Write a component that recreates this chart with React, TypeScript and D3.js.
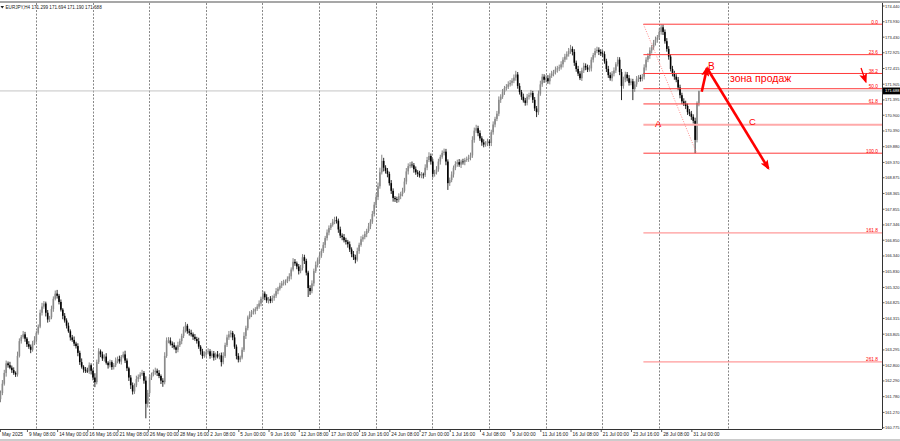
import React, { useRef, useEffect } from 'react';
import * as d3 from 'd3';

// EURJPY H4, ~7 May .. 31 Jul 2025 (close of each bar, open = previous close)
const symbol = 'EURJPY,H4';
const lastOhlc = ['171.299', '171.694', '171.190', '171.688'];
const lastPrice = 171.688;
const firstOpen = 161.7;

const closes = [
  161.90, 162.20, 162.55, 162.86, 162.80, 162.72, 162.64, 162.55, 162.50, 163.10,
  163.58, 163.72, 163.80, 163.66, 163.48, 163.40, 163.30, 163.50, 163.62, 163.85,
  164.05, 164.50, 164.70, 164.80, 164.50, 164.28, 164.35, 164.62, 164.95, 165.12,
  165.05, 164.85, 164.60, 164.40, 164.25, 164.08, 163.90, 163.70, 163.62, 163.50,
  163.42, 163.20, 162.90, 162.75, 162.66, 162.62, 162.60, 162.80, 162.62, 162.40,
  162.25, 162.90, 163.25, 163.15, 163.02, 163.08, 162.88, 162.80, 162.90, 162.74,
  162.80, 162.95, 163.00, 162.92, 163.07, 163.15, 162.95, 162.70, 162.40, 162.15,
  161.95, 162.15, 162.35, 162.42, 162.50, 162.55, 162.30, 161.55, 161.90, 162.40,
  162.50, 162.58, 162.62, 162.55, 162.45, 162.30, 162.25, 163.10, 163.60, 163.60,
  163.50, 163.45, 163.38, 163.30, 163.45, 163.58, 163.75, 163.95, 164.08, 163.90,
  163.85, 163.80, 163.72, 163.65, 163.58, 163.40, 163.25, 163.10, 163.15, 163.22,
  163.25, 163.10, 163.18, 163.05, 163.15, 163.08, 163.12, 162.90, 163.10, 163.45,
  163.70, 163.80, 163.85, 163.70, 163.40, 163.10, 162.98, 163.05, 163.30, 163.75,
  164.00, 164.35, 164.45, 164.52, 164.55, 164.62, 164.70, 164.80, 164.95, 165.12,
  165.00, 164.90, 164.95, 164.88, 164.98, 165.05, 165.20, 165.28, 165.38, 165.45,
  165.48, 165.52, 165.60, 165.68, 165.90, 166.15, 166.10, 166.00, 165.85, 165.95,
  166.30, 166.18, 165.80, 165.30, 165.20, 165.45, 165.85, 166.05, 166.22, 166.35,
  166.50, 166.70, 166.92, 167.10, 167.25, 167.35, 167.45, 167.50, 167.48, 167.20,
  167.00, 166.95, 166.85, 166.80, 166.72, 166.55, 166.40, 166.30, 166.22, 166.50,
  166.70, 166.88, 166.95, 167.05, 167.15, 167.30, 167.45, 167.70, 168.00, 168.25,
  168.60, 169.05, 169.42, 169.20, 169.10, 169.00, 168.70, 168.45, 168.22, 168.18,
  168.15, 168.28, 168.35, 168.45, 168.75, 169.08, 169.25, 169.30, 169.28, 169.15,
  169.05, 169.00, 168.95, 168.98, 168.96, 169.20, 169.45, 169.58, 169.40, 169.00,
  169.05, 169.15, 169.40, 169.55, 169.68, 169.72, 169.40, 168.70, 168.80, 168.98,
  169.20, 169.32, 169.38, 169.30, 169.40, 169.38, 169.45, 169.48, 169.52, 169.60,
  170.10, 170.40, 170.48, 170.32, 170.15, 170.02, 169.95, 169.98, 170.05, 170.00,
  170.35, 170.60, 170.78, 170.95, 171.40, 171.50, 171.65, 171.78, 171.82, 171.90,
  171.95, 172.02, 172.12, 172.22, 171.85, 171.65, 171.50, 171.38, 171.30, 171.50,
  171.55, 171.62, 171.40, 171.12, 171.00, 171.60, 171.90, 172.15, 172.05, 172.10,
  172.00, 172.18, 172.25, 172.30, 172.38, 172.42, 172.45, 172.55, 172.70, 172.80,
  172.88, 172.98, 173.05, 172.95, 172.60, 172.40, 172.25, 172.10, 172.35, 172.50,
  172.45, 172.38, 172.42, 172.70, 172.85, 172.98, 173.02, 172.95, 172.90, 172.88,
  172.65, 172.40, 172.20, 172.10, 172.25, 172.35, 172.55, 172.70, 172.30, 171.85,
  172.05, 172.22, 172.10, 171.95, 172.00, 171.75, 171.90, 172.08, 172.12, 172.08,
  172.15, 172.45, 172.70, 172.82, 173.00, 173.10, 173.25, 173.35, 173.42, 173.60,
  173.75, 173.60, 173.30, 173.05, 172.80, 172.40, 172.25, 172.15, 172.05, 171.80,
  171.55, 171.35, 171.28, 171.20, 171.00, 170.95, 170.85, 170.72, 170.10, 171.299, 171.688,
];

// wick lengths in pips (0.01) above max(open,close) / below min(open,close)
const upperWick = [
  8, 12, 10, 9, 6, 11, 7, 9, 5, 14,
  9, 6, 11, 8, 5, 10, 7, 9, 12, 6,
  7, 10, 12, 8, 6, 9, 5, 11, 8, 10,
  12, 6, 8, 5, 9, 7, 10, 6, 8, 11,
  6, 9, 7, 12, 5, 8, 10, 9, 6, 7,
  14, 8, 10, 6, 9, 7, 11, 5, 8, 6,
  7, 10, 8, 11, 6, 9, 12, 7, 5, 8,
  9, 6, 11, 8, 7, 10, 6, 14, 10, 8,
  6, 8, 10, 7, 9, 5, 8, 12, 10, 11,
  10, 7, 9, 6, 11, 8, 7, 10, 12, 6,
  8, 10, 6, 9, 7, 11, 5, 8, 10, 9,
  10, 7, 9, 8, 6, 11, 7, 9, 12, 8,
  9, 11, 8, 6, 10, 7, 9, 6, 8, 12,
  8, 6, 10, 7, 9, 6, 8, 10, 7, 9,
  7, 10, 6, 9, 8, 7, 10, 6, 9, 8,
  9, 6, 8, 10, 7, 12, 9, 6, 8, 10,
  10, 8, 7, 6, 9, 10, 8, 11, 7, 9,
  8, 9, 7, 10, 8, 6, 9, 11, 12, 7,
  9, 7, 10, 8, 6, 9, 7, 10, 8, 11,
  7, 10, 8, 9, 7, 11, 8, 10, 9, 12,
  12, 15, 20, 10, 8, 9, 7, 10, 8, 6,
  8, 9, 7, 10, 12, 11, 9, 8, 10, 7,
  9, 7, 10, 8, 6, 11, 10, 12, 8, 9,
  8, 10, 9, 7, 8, 10, 9, 7, 8, 10,
  7, 9, 8, 10, 6, 9, 7, 8, 10, 9,
  12, 10, 11, 8, 9, 7, 10, 8, 9, 7,
  8, 10, 7, 9, 11, 8, 10, 7, 9, 10,
  9, 8, 10, 12, 8, 9, 7, 10, 8, 9,
  8, 10, 7, 9, 8, 10, 12, 9, 8, 10,
  10, 8, 9, 7, 10, 8, 9, 10, 8, 9,
  9, 10, 13, 8, 9, 7, 10, 8, 9, 10,
  8, 9, 10, 8, 7, 9, 10, 8, 9, 10,
  9, 8, 10, 9, 8, 10, 7, 9, 8, 10,
  10, 9, 8, 10, 9, 8, 10, 9, 8, 9,
  9, 10, 8, 9, 10, 8, 9, 10, 8, 12,
  10, 9, 8, 10, 9, 8, 10, 9, 8, 9,
  9, 8, 10, 9, 8, 10, 9, 8, 10, 5, 0.6,
];
const lowerWick = [
  10, 7, 6, 12, 8, 5, 9, 6, 8, 7,
  5, 8, 6, 10, 9, 7, 11, 6, 5, 8,
  6, 5, 9, 7, 12, 10, 8, 6, 9, 5,
  9, 8, 6, 11, 7, 9, 5, 10, 6, 8,
  8, 11, 9, 6, 10, 7, 5, 8, 12, 9,
  16, 7, 6, 9, 8, 10, 6, 11, 7, 9,
  8, 6, 9, 7, 10, 5, 8, 9, 11, 12,
  10, 8, 6, 9, 7, 5, 10, 47, 12, 6,
  8, 6, 9, 10, 7, 11, 15, 7, 6, 9,
  6, 9, 7, 11, 8, 6, 10, 7, 9, 8,
  9, 7, 10, 6, 8, 7, 11, 9, 6, 8,
  7, 9, 6, 10, 8, 6, 9, 14, 7, 6,
  6, 8, 10, 9, 7, 11, 9, 8, 6, 7,
  10, 7, 6, 9, 8, 10, 6, 7, 9, 6,
  9, 8, 10, 7, 6, 9, 7, 10, 6, 8,
  7, 9, 6, 8, 10, 6, 8, 9, 11, 7,
  8, 10, 9, 29, 12, 7, 9, 6, 8, 10,
  7, 6, 10, 8, 9, 7, 6, 8, 9, 11,
  8, 10, 7, 9, 11, 8, 10, 9, 12, 6,
  9, 6, 8, 7, 10, 6, 9, 7, 8, 10,
  10, 8, 7, 12, 9, 11, 8, 10, 12, 9,
  9, 7, 10, 8, 6, 9, 10, 7, 8, 11,
  8, 10, 7, 9, 11, 6, 8, 7, 10, 12,
  9, 7, 8, 10, 6, 8, 12, 22, 9, 7,
  10, 8, 9, 7, 11, 8, 10, 6, 9, 8,
  8, 9, 7, 10, 8, 11, 9, 7, 8, 10,
  10, 8, 9, 7, 8, 10, 7, 9, 8, 7,
  7, 9, 8, 10, 9, 8, 10, 7, 9, 8,
  9, 7, 10, 8, 16, 9, 7, 8, 10, 9,
  8, 10, 7, 9, 8, 10, 9, 7, 10, 8,
  10, 8, 9, 11, 10, 9, 8, 6, 9, 8,
  9, 8, 7, 10, 9, 8, 7, 10, 8, 9,
  8, 10, 9, 8, 10, 9, 8, 7, 10, 46,
  9, 8, 10, 9, 8, 36, 9, 8, 10, 9,
  8, 9, 10, 8, 9, 10, 8, 9, 10, 8,
  9, 10, 8, 9, 10, 8, 9, 10, 8, 9,
  10, 9, 8, 10, 9, 8, 10, 9, 43, 8, 10.9,
];

const priceTicks = [
  174.44, 173.93, 173.43, 172.925, 172.415, 171.905, 171.395, 170.9, 170.39, 169.88,
  169.37, 168.875, 168.365, 167.855, 167.346, 166.85, 166.34, 165.83, 165.32, 164.825,
  164.315, 163.805, 163.295, 162.8, 162.29, 161.78, 161.27, 160.775,
];

const timeLabels = [
  'May 2025', '9 May 08:00', '14 May 00:00', '16 May 16:00', '21 May 08:00', '26 May 00:00',
  '28 May 16:00', '2 Jun 08:00', '5 Jun 00:00', '9 Jun 16:00', '12 Jun 08:00', '17 Jun 00:00',
  '19 Jun 16:00', '24 Jun 08:00', '27 Jun 00:00', '1 Jul 16:00', '4 Jul 08:00', '9 Jul 00:00',
  '11 Jul 16:00', '16 Jul 08:00', '21 Jul 00:00', '23 Jul 16:00', '28 Jul 08:00', '31 Jul 00:00',
];
const timeLabelBars = [
  -0.3, 14, 30, 46, 62, 78, 94, 110, 126, 142, 158, 174, 190, 206, 222, 238, 254, 270, 286,
  302, 318, 334, 350, 366,
];
const gridBars = [18.8, 48.8, 78.8, 108.8, 138.8, 168.8, 198.8, 228.8, 258.8, 288.8, 318.8, 348.8, 385.6];

// Fibonacci drawn from the 28 Jul top to the 31 Jul low
const fibHigh = 173.85;
const fibLow = 169.67;
const fibStartBar = 340.6;
const fibEndBar = 368.8;
const fibLevels = [0, 23.6, 38.2, 50, 61.8, 100, 161.8, 261.8];
const fibLabels = ['0.0', '23.6', '38.2', '50.0', '61.8', '100.0', '161.8', '261.8'];
const abcLevel = 170.59;

// wave annotation: [bar, price]
const arrowUp = [[371.5, 171.66], [374.3, 172.43]];
const arrowDown = [[374.3, 172.43], [406.8, 169.18]];
const smallArrow = [[455.9, 172.43], [458.4, 171.99]];
const waveLabels = [
  { text: 'B', bar: 374.8, price: 172.35, size: 10 },
  { text: 'A', bar: 346.8, price: 170.52, size: 9.5 },
  { text: 'C', bar: 396.6, price: 170.585, size: 9.5 },
  { text: 'зона продаж', bar: 386.5, price: 171.98, size: 10.5 },
];

const W = 900;
const H = 441;
const plotRight = 882;
const plotBottom = 429;
const plotTop = 3;
const font = '"Liberation Sans", Arial, sans-serif';
const RED = '#ff0000';

const CandleChart: React.FC = () => {
  const ref = useRef<SVGSVGElement | null>(null);

  useEffect(() => {
    if (!ref.current) return;
    const svg = d3.select(ref.current);
    svg.selectAll('*').remove();

    const x = d3.scaleLinear().domain([0, closes.length - 1]).range([0.5, 698.9]);
    const y = d3.scaleLinear().domain([160.775, 174.44]).range([427.7, 6]);

    const candles = closes.map((c, i) => {
      const o = i === 0 ? firstOpen : closes[i - 1];
      return {
        i,
        o,
        c,
        h: Math.max(o, c) + upperWick[i] / 100,
        l: Math.min(o, c) - lowerWick[i] / 100,
      };
    });

    const defs = svg.append('defs');
    defs
      .append('clipPath')
      .attr('id', 'plot-clip')
      .append('rect')
      .attr('x', 0)
      .attr('y', plotTop)
      .attr('width', plotRight)
      .attr('height', plotBottom - plotTop);
    defs
      .append('marker')
      .attr('id', 'arrow-head')
      .attr('viewBox', '0 0 10 8')
      .attr('refX', 8)
      .attr('refY', 4)
      .attr('markerWidth', 10)
      .attr('markerHeight', 8)
      .attr('markerUnits', 'userSpaceOnUse')
      .attr('orient', 'auto')
      .append('path')
      .attr('d', 'M0,0 L10,4 L0,8 L2,4 z')
      .attr('fill', RED);

    svg.append('rect').attr('width', W).attr('height', H).attr('fill', '#fff');

    const plot = svg.append('g').attr('clip-path', 'url(#plot-clip)');

    // vertical dashed grid
    plot
      .append('g')
      .selectAll('line')
      .data(gridBars)
      .join('line')
      .attr('x1', (d) => Math.round(x(d)) + 0.5)
      .attr('x2', (d) => Math.round(x(d)) + 0.5)
      .attr('y1', plotTop)
      .attr('y2', plotBottom)
      .attr('stroke', '#6a6a6a')
      .attr('stroke-width', 0.8)
      .attr('stroke-dasharray', '2,1.5');

    // bid line
    plot
      .append('line')
      .attr('x1', 0)
      .attr('x2', plotRight)
      .attr('y1', y(lastPrice))
      .attr('y2', y(lastPrice))
      .attr('stroke', '#c4c4c4')
      .attr('stroke-width', 1);

    // candles
    const cg = plot.append('g');
    cg.selectAll('line')
      .data(candles)
      .join('line')
      .attr('x1', (d) => x(d.i))
      .attr('x2', (d) => x(d.i))
      .attr('y1', (d) => y(d.h))
      .attr('y2', (d) => y(d.l))
      .attr('stroke', (d) => (d.c >= d.o ? '#777' : '#111'))
      .attr('stroke-width', 0.9);
    cg.selectAll('rect')
      .data(candles)
      .join('rect')
      .attr('x', (d) => x(d.i) - 0.8)
      .attr('width', 1.6)
      .attr('y', (d) => y(Math.max(d.o, d.c)))
      .attr('height', (d) => Math.max(0.7, Math.abs(y(d.o) - y(d.c))))
      .attr('fill', (d) => (d.c >= d.o ? '#8a8a8a' : '#000'));

    // fibonacci
    const fg = plot.append('g');
    const fibPrice = (r: number) => fibHigh - (r / 100) * (fibHigh - fibLow);
    fg.selectAll('line.fib')
      .data(fibLevels)
      .join('line')
      .attr('class', 'fib')
      .attr('x1', x(fibStartBar))
      .attr('x2', plotRight)
      .attr('y1', (d) => y(fibPrice(d)))
      .attr('y2', (d) => y(fibPrice(d)))
      .attr('stroke', (d) => (d > 100 ? '#ff8080' : '#ff3a3a'))
      .attr('stroke-width', 1);
    fg.selectAll('text')
      .data(fibLevels)
      .join('text')
      .attr('x', plotRight - 4)
      .attr('y', (d) => y(fibPrice(d)) - 0.6)
      .attr('text-anchor', 'end')
      .attr('font-family', font)
      .attr('font-size', 4.8)
      .attr('fill', RED)
      .text((_, k) => fibLabels[k]);
    fg.append('line')
      .attr('x1', x(fibStartBar))
      .attr('x2', plotRight)
      .attr('y1', y(abcLevel))
      .attr('y2', y(abcLevel))
      .attr('stroke', '#ffaaaa')
      .attr('stroke-width', 2);
    fg.append('line')
      .attr('x1', x(fibStartBar))
      .attr('y1', y(fibHigh))
      .attr('x2', x(fibEndBar))
      .attr('y2', y(fibLow))
      .attr('stroke', '#ff7070')
      .attr('stroke-width', 0.8)
      .attr('stroke-dasharray', '1,1.5');

    // wave arrows
    const seg = d3
      .line<number[]>()
      .x((d) => x(d[0]))
      .y((d) => y(d[1]));
    [arrowUp, arrowDown].forEach((pts) => {
      plot
        .append('path')
        .attr('d', seg(pts))
        .attr('stroke', RED)
        .attr('stroke-width', 2.6)
        .attr('fill', 'none')
        .attr('marker-end', 'url(#arrow-head)');
    });
    plot
      .append('path')
      .attr('d', seg(smallArrow))
      .attr('stroke', RED)
      .attr('stroke-width', 1.3)
      .attr('fill', 'none')
      .attr('marker-end', 'url(#arrow-head)');

    plot
      .append('g')
      .selectAll('text')
      .data(waveLabels)
      .join('text')
      .attr('x', (d) => x(d.bar))
      .attr('y', (d) => y(d.price))
      .attr('font-family', font)
      .attr('font-size', (d) => d.size)
      .attr('fill', RED)
      .text((d) => d.text);

    // axes frame
    svg
      .append('line')
      .attr('x1', 0)
      .attr('x2', W)
      .attr('y1', 2)
      .attr('y2', 2)
      .attr('stroke', '#8a8a8a')
      .attr('stroke-width', 1.6);
    svg
      .append('line')
      .attr('x1', plotRight + 0.5)
      .attr('x2', plotRight + 0.5)
      .attr('y1', plotTop)
      .attr('y2', plotBottom)
      .attr('stroke', '#333');
    svg
      .append('line')
      .attr('x1', 0)
      .attr('x2', plotRight)
      .attr('y1', plotBottom + 0.5)
      .attr('y2', plotBottom + 0.5)
      .attr('stroke', '#333');
    svg
      .append('line')
      .attr('x1', 0)
      .attr('x2', W)
      .attr('y1', 440)
      .attr('y2', 440)
      .attr('stroke', '#9a9a9a')
      .attr('stroke-width', 1.2);

    // price axis
    const pa = svg.append('g');
    pa.selectAll('line')
      .data(priceTicks)
      .join('line')
      .attr('x1', plotRight)
      .attr('x2', plotRight + 2.5)
      .attr('y1', (d) => y(d))
      .attr('y2', (d) => y(d))
      .attr('stroke', '#333')
      .attr('stroke-width', 0.8);
    pa.selectAll('text')
      .data(priceTicks)
      .join('text')
      .attr('x', plotRight + 3)
      .attr('y', (d) => y(d) + 1.5)
      .attr('font-family', font)
      .attr('font-size', 4)
      .attr('fill', '#222')
      .text((d) => d.toFixed(3));

    pa.append('rect')
      .attr('x', plotRight + 1)
      .attr('y', y(lastPrice) - 3.4)
      .attr('width', W - plotRight - 1)
      .attr('height', 6.8)
      .attr('fill', '#000');
    pa.append('text')
      .attr('x', plotRight + 3)
      .attr('y', y(lastPrice) + 1.5)
      .attr('font-family', font)
      .attr('font-size', 4)
      .attr('fill', '#fff')
      .text(lastPrice.toFixed(3));

    // time axis
    const ta = svg.append('g');
    ta.selectAll('line')
      .data(timeLabelBars)
      .join('line')
      .attr('x1', (d) => x(d) + 0.5)
      .attr('x2', (d) => x(d) + 0.5)
      .attr('y1', plotBottom)
      .attr('y2', plotBottom + 3)
      .attr('stroke', '#333')
      .attr('stroke-width', 0.8);
    ta.selectAll('text')
      .data(timeLabelBars)
      .join('text')
      .attr('x', (d) => x(d) + 2)
      .attr('y', plotBottom + 6.5)
      .attr('font-family', font)
      .attr('font-size', 4.8)
      .attr('fill', '#222')
      .text((_, k) => timeLabels[k]);

    // header
    svg
      .append('path')
      .attr('d', 'M0.5,6 L4,6 L2.25,8.5 Z')
      .attr('fill', '#222');
    svg
      .append('text')
      .attr('x', 5.5)
      .attr('y', 9)
      .attr('font-family', font)
      .attr('font-size', 4.6)
      .attr('fill', '#222')
      .text(`${symbol}  ${lastOhlc.join(' ')}`);
  }, []);

  return <svg ref={ref} width={W} height={H} style={{ display: 'block' }} />;
};

export default function App() {
  return (
    <>
      <style>{'body{margin:0;}'}</style>
      <CandleChart />
    </>
  );
}
